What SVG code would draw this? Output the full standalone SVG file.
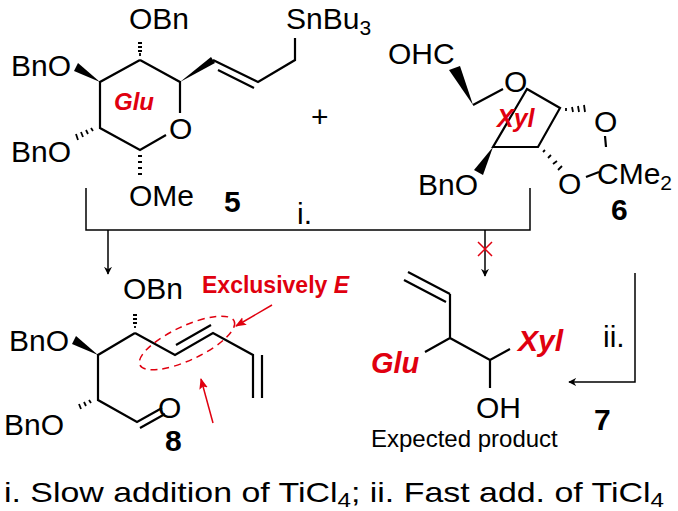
<svg xmlns="http://www.w3.org/2000/svg" width="678" height="511" viewBox="0 0 678 511">
<style>
text{font-family:"Liberation Sans",Arial,sans-serif;fill:#000}
.a{font-size:30px}
.r{fill:#e0000f;font-weight:bold;font-style:italic}
.n{font-weight:bold;font-size:30px}
.b{stroke:#000;stroke-width:2.2;fill:none}
.h{stroke:#000;stroke-width:1.8}
</style>
<defs>
<marker id="ah" viewBox="0 0 10 10" refX="9" refY="5" markerWidth="8" markerHeight="8" orient="auto" markerUnits="userSpaceOnUse"><path d="M0,0 L10,5 L0,10 L3,5 z" fill="#000"/></marker>
<marker id="rh" viewBox="0 0 10 10" refX="9" refY="5" markerWidth="11" markerHeight="11" orient="auto" markerUnits="userSpaceOnUse"><path d="M0,1 L10,5 L0,9 L2,5 z" fill="#e0000f"/></marker>
</defs>
<rect width="678" height="511" fill="#fff"/>
<g id="cmp5">
<path class="b" d="M140,60 L100,82 L100,128 L140,150 L166,135 M180,113 L180,82 L140,60 M213,60 L258,82 L295,60 L295,38 M218,70 L254,88"/>
<polygon points="180,82 211,57 215,63"/>
<polygon points="100,82 74,71 78,63"/>
<path class="h" d="M140,56 v-3 M138,51h4 M138,47h4 M138,43h4"/>
<path class="h" d="M93,131 l-2,-3 M88,134l-2,-4 M83,137l-2,-5 M78,140l-2,-6"/>
<path class="h" d="M138,156h4 M138,162h4 M138,168h4 M138,174h4"/>
<text class="a" x="129" y="29">OBn</text>
<text class="a" x="11" y="76">BnO</text>
<text class="a" x="11" y="162">BnO</text>
<text class="a" x="129" y="206">OMe</text>
<text class="a" x="169" y="139">O</text>
<text class="a" x="286" y="29">SnBu<tspan font-size="21" dy="6">3</tspan></text>
<text class="r" x="114" y="110" font-size="24">Glu</text>
<text class="n" x="224" y="212">5</text>
</g>
<text class="a" x="311" y="127">+</text>
<g id="cmp6">
<path class="b" d="M473,105 L503,89 M527,89 L560,108 L538,147 L493,147 Z M605,136 L606,147 M586,177 L599,172"/>
<polygon points="473,105 449,70 460,66"/>
<polygon points="493,147 474,170 483,175"/>
<path class="h" d="M566,108 l0,3 M572,107 l1,5 M578,106 l1,6 M584,105 l1,7"/>
<path class="h" d="M543,152 l2,-2 M548,158 l3,-3 M553,164 l4,-3 M558,170 l4,-4"/>
<text class="a" x="388" y="64">OHC</text>
<text class="a" x="504" y="92">O</text>
<text class="a" x="594" y="132">O</text>
<text class="a" x="558" y="194">O</text>
<text class="a" x="597" y="184">CMe<tspan font-size="21" dy="6">2</tspan></text>
<text class="a" x="418" y="195">BnO</text>
<text class="r" x="497" y="127" font-size="25">Xyl</text>
<text class="n" x="611" y="220">6</text>
</g>
<g id="connectors" fill="none" stroke="#000" stroke-width="1.5">
<path d="M86,188 V230 H530 V188"/>
<path d="M108,230 V274" marker-end="url(#ah)"/>
<path d="M485,230 V276" marker-end="url(#ah)"/>
<path d="M478,242 l14,14 M492,242 l-14,14" stroke="#e0000f"/>
<path d="M635,273 V382 H569" marker-end="url(#ah)"/>
<path d="M272,305 L236,326" stroke="#e0000f" marker-end="url(#rh)"/>
<path d="M213,423 L201,379" stroke="#e0000f" marker-end="url(#rh)"/>
</g>
<text class="a" x="297" y="224">i.</text>
<text class="a" x="603" y="347">ii.</text>
<g id="cmp8">
<path class="b" d="M135,333 L98,355 L98,400 L137,422 L162,408 M140,428 L165,414 M135,333 L175,355 L213,333 L253,355 L253,398 M176,345 L211,325 M262,355 L262,398"/>
<polygon points="98,355 72,344 76,336"/>
<path class="h" d="M135,328 v-2 M133,323h4 M133,319h4 M133,315h4"/>
<path class="h" d="M91,403 l-2,-3 M86,406l-2,-4 M81,409l-2,-5"/>
<text class="a" x="123" y="299">OBn</text>
<text class="a" x="9" y="351">BnO</text>
<text class="a" x="4" y="435">BnO</text>
<text class="a" x="158" y="418">O</text>
<text class="n" x="165" y="451">8</text>
<ellipse cx="187" cy="343" rx="52" ry="17" transform="rotate(-25 187 343)" fill="none" stroke="#e0000f" stroke-width="1.5" stroke-dasharray="7,5"/>
<text x="202" y="293" font-weight="bold" font-size="23" style="fill:#e0000f">Exclusively <tspan font-style="italic">E</tspan></text>
</g>
<g id="cmp7">
<path class="b" d="M408,272 L450,294 M404,280 L446,302 M450,294 L450,338 L490,360 L510,349 M450,338 L425,352 M490,360 L490,388"/>
<text class="r" x="371" y="373" font-size="29">Glu</text>
<text class="r" x="518" y="351" font-size="30">Xyl</text>
<text class="a" x="476" y="418">OH</text>
<text x="371" y="447" font-size="24">Expected product</text>
<text class="n" x="594" y="430">7</text>
</g>
<text x="4" y="502" font-size="28" textLength="660" lengthAdjust="spacingAndGlyphs">i. Slow addition of TiCl<tspan font-size="20" dy="5">4</tspan><tspan dy="-5">; ii. Fast add. of TiCl</tspan><tspan font-size="20" dy="5">4</tspan></text>
</svg>
